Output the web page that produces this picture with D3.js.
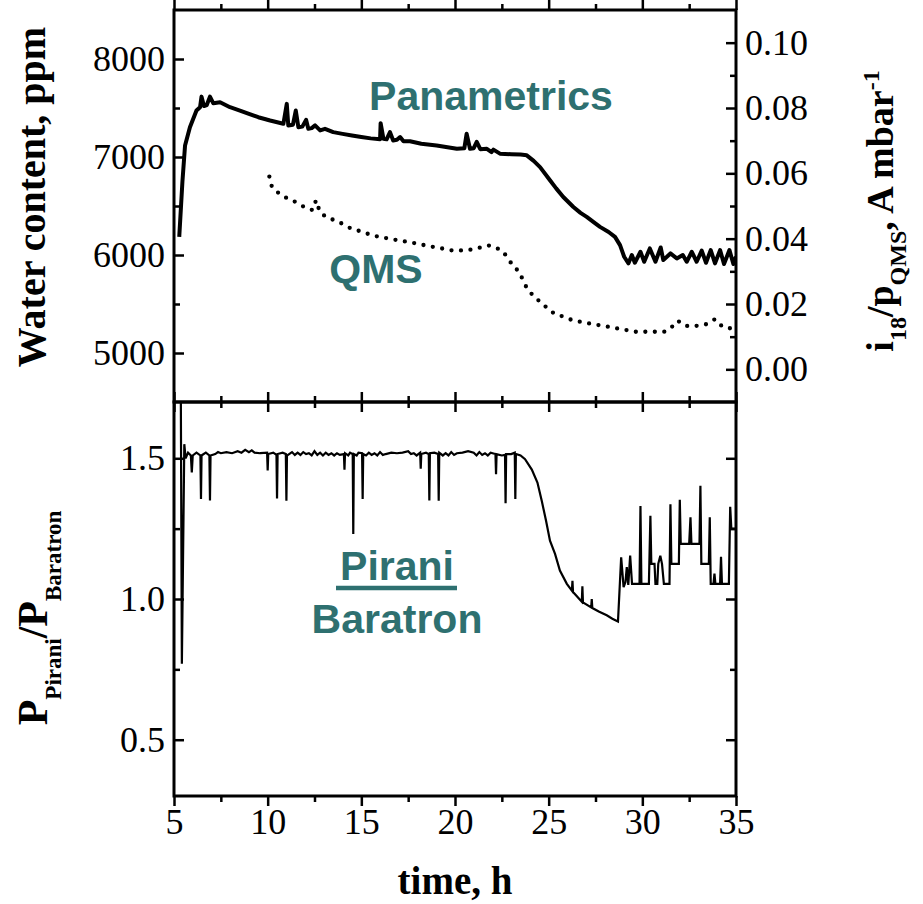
<!DOCTYPE html>
<meta charset="utf-8">
<style>
body { margin: 0; background: #fff; }
.frame { fill: none; stroke: #000; stroke-width: 3px; }
.axis path.domain { display: none; }
.note { font-family: "Liberation Sans", Arial, sans-serif; font-weight: bold; font-size: 41px; fill: #2e7070; }
</style>
<body>
<script src="https://d3js.org/d3.v7.min.js"></script>
<script>

// ---- data ----
// Panametrics water content [time h, ppm]
var panametrics = [
  [5.28, 6185], [5.45, 6750], [5.59, 7118], [5.85, 7304], [6.2, 7474], [6.39, 7508],
  [6.47, 7616], [6.6, 7520], [6.75, 7530], [6.92, 7616], [7.1, 7548], [7.46, 7559],
  [7.99, 7508], [8.52, 7474], [9.0, 7440], [9.5, 7406], [10.13, 7372], [10.84, 7339],
  [11.02, 7542], [11.1, 7322], [11.35, 7330], [11.5, 7474], [11.64, 7304], [11.85, 7310],
  [12.05, 7379], [12.17, 7288], [12.35, 7295], [12.53, 7322], [12.8, 7271], [13.06, 7288],
  [13.5, 7254], [14.0, 7236], [14.5, 7220], [15.0, 7205], [15.5, 7190], [16.0, 7180],
  [16.03, 7345], [16.18, 7186], [16.35, 7180], [16.53, 7254], [16.7, 7169], [16.9, 7175],
  [17.07, 7203], [17.25, 7160], [17.6, 7160], [18.2, 7135], [19.02, 7118], [19.6, 7100],
  [20.1, 7084], [20.5, 7090], [20.62, 7237], [20.8, 7084], [21.0, 7090], [21.16, 7155],
  [21.35, 7080], [21.7, 7084], [21.95, 7050], [22.05, 7075], [22.4, 7034], [23.0, 7028],
  [23.5, 7025], [23.83, 7017], [24.2, 6960], [24.54, 6897], [25.07, 6762], [25.4, 6680],
  [25.78, 6592], [26.32, 6490], [26.7, 6430], [27.03, 6389], [27.4, 6335], [27.74, 6287],
  [28.2, 6235], [28.54, 6185], [28.81, 6101], [29.03, 5982], [29.26, 5915], [29.44, 6000],
  [29.6, 5921], [29.9, 6033], [30.1, 5931], [30.4, 6067], [30.7, 5931], [30.98, 6077],
  [31.12, 5948], [31.5, 6016], [31.84, 5965], [32.16, 6000], [32.37, 5931], [32.64, 6033],
  [32.9, 5931], [33.17, 6044], [33.4, 5921], [33.65, 6050], [33.88, 5915], [34.15, 6050],
  [34.36, 5908], [34.65, 6050], [34.86, 5908], [35.0, 5982]
];

// QMS signal i18/pQMS [time h, A/mbar]
var qms = [
  [10.09, 0.0590], [10.2, 0.0563], [10.6, 0.0539], [11.1, 0.0522], [11.5, 0.0512],
  [11.99, 0.0496], [12.4, 0.0488], [12.6, 0.0517], [12.75, 0.0488], [13.15, 0.0466],
  [13.6, 0.0456], [14.04, 0.0444], [14.5, 0.0430], [15.0, 0.0422], [15.5, 0.0412],
  [16.0, 0.0405], [16.5, 0.0400], [16.96, 0.0395], [17.5, 0.0390], [17.95, 0.0385],
  [18.45, 0.0379], [18.9, 0.0374], [19.4, 0.0369], [19.9, 0.0364], [20.36, 0.0364],
  [20.8, 0.0366], [21.3, 0.0372], [21.8, 0.0379], [22.3, 0.0369], [22.76, 0.0346],
  [23.08, 0.0318], [23.47, 0.0293], [23.7, 0.0263], [24.0, 0.0237], [24.4, 0.0214],
  [24.86, 0.0191], [25.3, 0.0171], [25.8, 0.0161], [26.3, 0.0150], [26.73, 0.0145],
  [27.2, 0.0140], [27.7, 0.0135], [28.2, 0.0130], [28.67, 0.0125], [29.17, 0.0120],
  [29.65, 0.0115], [30.15, 0.0115], [30.6, 0.0115], [31.1, 0.0115], [31.5, 0.0125],
  [31.87, 0.0148], [32.2, 0.0135], [32.6, 0.0132], [33.1, 0.0135], [33.5, 0.0140],
  [33.9, 0.0153], [34.05, 0.0145], [34.3, 0.0130], [34.77, 0.0125], [35.0, 0.0123]
];

// Pirani / Baratron pressure ratio [time h, ratio]
var ratio = [
  [5.36, 1.80], [5.42, 0.77], [5.55, 1.55], [5.62, 1.50], [5.75, 1.52], [5.9, 1.51],
  [5.95, 1.45], [6.0, 1.51], [6.2, 1.52], [6.41, 1.51], [6.44, 1.355], [6.47, 1.51],
  [6.7, 1.52], [6.89, 1.51], [6.92, 1.35], [6.95, 1.51], [7.2, 1.515], [7.35, 1.522],
  [7.5, 1.518], [7.8, 1.522], [8.1, 1.518], [8.4, 1.525], [8.6, 1.52], [8.8, 1.53],
  [9.0, 1.522], [9.15, 1.528], [9.3, 1.52], [9.6, 1.518], [9.97, 1.52], [10.0, 1.457],
  [10.03, 1.515], [10.3, 1.52], [10.47, 1.512], [10.5, 1.357], [10.53, 1.515], [10.8, 1.52],
  [10.97, 1.515], [11.0, 1.349], [11.03, 1.51], [11.3, 1.522], [11.45, 1.512], [11.6, 1.52],
  [11.75, 1.512], [11.9, 1.522], [12.05, 1.515], [12.2, 1.518], [12.35, 1.51], [12.5, 1.525],
  [12.65, 1.512], [12.8, 1.52], [12.95, 1.51], [13.1, 1.52], [13.25, 1.512], [13.4, 1.518],
  [13.55, 1.51], [13.7, 1.518], [13.85, 1.512], [14.07, 1.515], [14.1, 1.459], [14.13, 1.518],
  [14.3, 1.51], [14.4, 1.52], [14.54, 1.515], [14.57, 1.231], [14.6, 1.515], [14.75, 1.51],
  [14.85, 1.52], [15.04, 1.518], [15.07, 1.355], [15.1, 1.515], [15.25, 1.51], [15.4, 1.52],
  [15.55, 1.512], [15.7, 1.518], [15.85, 1.51], [16.0, 1.522], [16.15, 1.512], [16.3, 1.515],
  [16.6, 1.52], [16.9, 1.518], [17.2, 1.52], [17.5, 1.525], [17.65, 1.515], [17.8, 1.518],
  [17.95, 1.51], [18.14, 1.52], [18.17, 1.463], [18.2, 1.515], [18.45, 1.52], [18.6, 1.515],
  [18.63, 1.35], [18.66, 1.518], [18.9, 1.52], [19.1, 1.515], [19.13, 1.349], [19.16, 1.52],
  [19.35, 1.51], [19.5, 1.518], [19.65, 1.51], [19.8, 1.522], [19.95, 1.512], [20.1, 1.518],
  [20.4, 1.52], [20.7, 1.525], [21.0, 1.52], [21.15, 1.51], [21.3, 1.522], [21.45, 1.512],
  [21.6, 1.518], [21.75, 1.51], [21.9, 1.52], [22.16, 1.515], [22.19, 1.443], [22.22, 1.515],
  [22.5, 1.51], [22.67, 1.512], [22.7, 1.34], [22.73, 1.515], [23.0, 1.515], [23.19, 1.52],
  [23.22, 1.355], [23.25, 1.515], [23.5, 1.51], [23.74, 1.497], [24.1, 1.46], [24.4, 1.414],
  [24.63, 1.349], [24.86, 1.278], [25.07, 1.207], [25.34, 1.16], [25.6, 1.101], [25.97, 1.054],
  [26.24, 1.03], [26.27, 1.065], [26.3, 1.025], [26.77, 0.99], [26.8, 1.045], [26.83, 0.988],
  [27.27, 0.97], [27.3, 1.0], [27.33, 0.968], [27.7, 0.955], [28.1, 0.942], [28.4, 0.93],
  [28.7, 0.92], [28.87, 1.148], [29.0, 1.042], [29.1, 1.06], [29.17, 1.113], [29.25, 1.05],
  [29.35, 1.154], [29.45, 1.054], [29.85, 1.054], [29.9, 1.33], [29.95, 1.054], [30.35, 1.054],
  [30.43, 1.296], [30.48, 1.125], [30.65, 1.125], [30.7, 1.054], [30.8, 1.054], [30.85, 1.125],
  [30.96, 1.154], [31.05, 1.125], [31.15, 1.054], [31.45, 1.054], [31.5, 1.337], [31.55, 1.125],
  [31.95, 1.125], [32.0, 1.353], [32.05, 1.196], [32.5, 1.196], [32.57, 1.29], [32.62, 1.196],
  [33.05, 1.196], [33.1, 1.402], [33.15, 1.125], [33.55, 1.125], [33.6, 1.29], [33.65, 1.054],
  [33.8, 1.054], [33.85, 1.09], [33.9, 1.054], [34.15, 1.054], [34.2, 1.15], [34.25, 1.054],
  [34.62, 1.054], [34.69, 1.328], [34.75, 1.25], [35.0, 1.25]
];

// tick values
var timeTicks = [5, 10, 15, 20, 25, 30, 35];
var timeMinor = [7.5, 12.5, 17.5, 22.5, 27.5, 32.5];
var waterTicks = [5000, 6000, 7000, 8000];
var waterMinor = [5500, 6500, 7500];
var qmsTicks = [0, 0.02, 0.04, 0.06, 0.08, 0.10];
var qmsMinor = [0.01, 0.03, 0.05, 0.07, 0.09];
var ratioTicks = [0.5, 1.0, 1.5];
var ratioMinor = [0.75, 1.25];

// ---- layout ----
var W = 923, H = 904;
var left = 174, right = 736, top1 = 10, mid = 402, bottom = 796;
var serif = "'Liberation Serif', 'Times New Roman', serif";

var svg = d3.select("body").append("svg")
    .attr("width", W)
    .attr("height", H);

// scales
var x = d3.scaleLinear().domain([5, 35]).range([left, right]);
var yWater = d3.scaleLinear().domain([4500, 8500]).range([mid, top1]);
var yQms = d3.scaleLinear().domain([-0.01, 0.11]).range([mid, top1]);
var yRatio = d3.scaleLinear().domain([0.3, 1.7]).range([bottom, mid]);

// clip paths for both panels
var defs = svg.append("defs");
defs.append("clipPath").attr("id", "clipTop")
  .append("rect").attr("x", left).attr("y", top1).attr("width", right - left).attr("height", mid - top1);
defs.append("clipPath").attr("id", "clipBot")
  .append("rect").attr("x", left).attr("y", mid).attr("width", right - left).attr("height", bottom - mid);

// helper: inward ticks, labels optional
function ticks(axisFn, scale, values, size, fmt, pos, pad) {
  var ax = axisFn(scale).tickValues(values).tickSize(-size).tickSizeOuter(0).tickPadding(pad || 9);
  ax.tickFormat(fmt || "");
  var g = svg.append("g").attr("class", "axis").attr("transform", pos).call(ax);
  g.selectAll(".tick line").style("stroke", "#000").style("stroke-width", "2.5px");
  g.selectAll("text")
    .style("font-family", serif)
    .style("font-size", "36px")
    .style("fill", "#000");
  return g;
}

// ---- top panel ----
ticks(d3.axisLeft, yWater, waterTicks, 10, d3.format("d"), "translate(" + left + ",0)");
ticks(d3.axisLeft, yWater, waterMinor, 6, null, "translate(" + left + ",0)");
ticks(d3.axisRight, yQms, qmsTicks, 10, d3.format(".2f"), "translate(" + right + ",0)");
ticks(d3.axisRight, yQms, qmsMinor, 6, null, "translate(" + right + ",0)");
ticks(d3.axisBottom, x, timeTicks, 10, null, "translate(0," + top1 + ")");
ticks(d3.axisBottom, x, timeMinor, 6, null, "translate(0," + top1 + ")");
ticks(d3.axisTop, x, timeTicks, 10, null, "translate(0," + mid + ")");
ticks(d3.axisTop, x, timeMinor, 6, null, "translate(0," + mid + ")");

// ---- bottom panel ----
ticks(d3.axisLeft, yRatio, ratioTicks, 10, d3.format(".1f"), "translate(" + left + ",0)");
ticks(d3.axisLeft, yRatio, ratioMinor, 6, null, "translate(" + left + ",0)");
ticks(d3.axisRight, yRatio, ratioTicks, 10, null, "translate(" + right + ",0)");
ticks(d3.axisRight, yRatio, ratioMinor, 6, null, "translate(" + right + ",0)");
ticks(d3.axisBottom, x, timeTicks, 10, null, "translate(0," + mid + ")");
ticks(d3.axisBottom, x, timeMinor, 6, null, "translate(0," + mid + ")");
var xAxisG = ticks(d3.axisTop, x, timeTicks, 10, d3.format("d"), "translate(0," + bottom + ")");
ticks(d3.axisTop, x, timeMinor, 6, null, "translate(0," + bottom + ")");

// the time labels sit below the bottom axis (axisTop puts them above)
xAxisG.selectAll("text")
  .attr("y", 12)
  .attr("dy", "0.71em");

// ---- lines ----
var panLine = d3.line()
    .x(function(d) { return x(d[0]); })
    .y(function(d) { return yWater(d[1]); });

var qmsLine = d3.line()
    .curve(d3.curveMonotoneX)
    .x(function(d) { return x(d[0]); })
    .y(function(d) { return yQms(d[1]); });

var ratioLine = d3.line()
    .x(function(d) { return x(d[0]); })
    .y(function(d) { return yRatio(d[1]); });

svg.append("path")
    .datum(panametrics)
    .attr("clip-path", "url(#clipTop)")
    .attr("fill", "none")
    .attr("stroke", "#000")
    .attr("stroke-width", 4)
    .attr("stroke-linejoin", "round")
    .attr("d", panLine);

svg.append("path")
    .datum(qms)
    .attr("clip-path", "url(#clipTop)")
    .attr("fill", "none")
    .attr("stroke", "#000")
    .attr("stroke-width", 4.3)
    .attr("stroke-linecap", "round")
    .attr("stroke-dasharray", "0,9.5")
    .attr("d", qmsLine);

svg.append("path")
    .datum(ratio)
    .attr("clip-path", "url(#clipBot)")
    .attr("fill", "none")
    .attr("stroke", "#000")
    .attr("stroke-width", 2.2)
    .attr("d", ratioLine);

// ---- frames ----
svg.append("rect").attr("class", "frame")
    .attr("x", left).attr("y", top1).attr("width", right - left).attr("height", mid - top1);
svg.append("rect").attr("class", "frame")
    .attr("x", left).attr("y", mid).attr("width", right - left).attr("height", bottom - mid);

// ---- axis titles ----
function title(tr, size) {
  return svg.append("text")
    .attr("transform", tr)
    .attr("text-anchor", "middle")
    .style("font-family", serif)
    .style("font-weight", "bold")
    .style("font-size", size + "px")
    .style("fill", "#000");
}

title("translate(45,197) rotate(-90)", 40).text("Water content, ppm");

var rt = title("translate(893,211) rotate(-90)", 38);
rt.append("tspan").text("i");
rt.append("tspan").attr("dy", 13).style("font-size", "24px").text("18");
rt.append("tspan").attr("dy", -13).text("/p");
rt.append("tspan").attr("dy", 13).style("font-size", "24px").text("QMS");
rt.append("tspan").attr("dy", -13).text(", A mbar");
rt.append("tspan").attr("dy", -14).style("font-size", "24px").text("-1");

var lt = title("translate(47,618) rotate(-90)", 42);
lt.append("tspan").text("P");
lt.append("tspan").attr("dy", 14).style("font-size", "23px").text("Pirani");
lt.append("tspan").attr("dy", -14).text("/P");
lt.append("tspan").attr("dy", 14).style("font-size", "23px").text("Baratron");

title("translate(455,894)", 39).text("time, h");

// ---- annotations ----
svg.append("text").attr("class", "note")
    .attr("x", 491).attr("y", 110).attr("text-anchor", "middle")
    .text("Panametrics");
svg.append("text").attr("class", "note")
    .attr("x", 376).attr("y", 283).attr("text-anchor", "middle")
    .text("QMS");
svg.append("text").attr("class", "note")
    .attr("x", 397).attr("y", 580).attr("text-anchor", "middle")
    .text("Pirani");
svg.append("line")
    .attr("x1", 336).attr("x2", 457)
    .attr("y1", 588).attr("y2", 588)
    .attr("stroke", "#2e7070")
    .attr("stroke-width", 4.5);
svg.append("text").attr("class", "note")
    .attr("x", 397).attr("y", 633).attr("text-anchor", "middle")
    .text("Baratron");

</script>
</body>
